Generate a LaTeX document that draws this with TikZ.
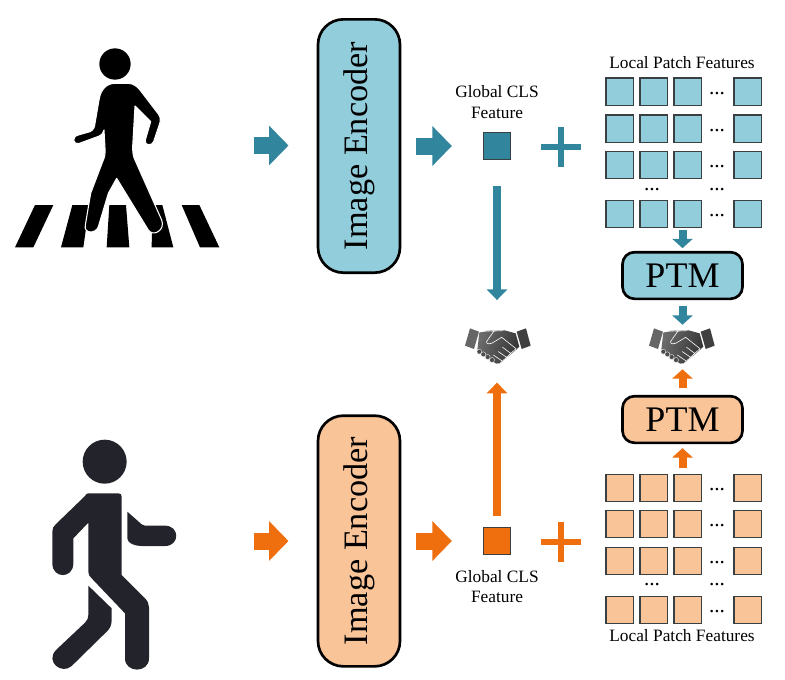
\documentclass[tikz,border=0pt]{standalone}
\usepackage{fontspec}
\setmainfont{Liberation Serif}
\usetikzlibrary{arrows.meta,calc}
\definecolor{teal}{HTML}{31859C}
\definecolor{orng}{HTML}{EF6F0F}
\definecolor{lblue}{HTML}{92CDDC}
\definecolor{lorng}{HTML}{FAC499}
\definecolor{edge}{HTML}{3A3F42}
\definecolor{dark}{HTML}{23242B}
\tikzset{
  px/.style={x=0.75pt,y=-0.75pt},
  encbox/.style={draw=black,line width=2pt,rounded corners=19pt,minimum width=61.5pt,minimum height=190pt,inner sep=0pt},
  ptmbox/.style={draw=black,line width=2pt,rounded corners=9pt,minimum width=90pt,minimum height=35pt,inner sep=0pt,font=\fontsize{27}{27}\selectfont},
  patch/.style={draw=edge,line width=1.1pt,minimum size=20.6pt,inner sep=0pt,outer sep=0pt},
  cls/.style={draw=edge,line width=1.1pt,minimum size=20.6pt,inner sep=0pt},
  lab/.style={font=\fontsize{13}{15.2}\selectfont,align=center,inner sep=0pt},
  dotslab/.style={font=\fontsize{16}{16}\selectfont,inner sep=0pt},
  bigarrow/.style={line width=12.75pt,-{Triangle[length=14.6pt,width=29pt]},draw=#1},
  midarrow/.style={line width=6pt,-{Triangle[length=8pt,width=15pt]},draw=#1},
  smallarrow/.style={line width=6pt,-{Triangle[length=7pt,width=15pt]},draw=#1},
  plusbar/.style={line width=3.8pt,draw=#1},
  anchorpt/.style={inner sep=0pt,minimum size=0pt},
}
\newcommand{\handshake}[2]{%
\begin{scope}[shift={(#1,#2)},x=0.25pt,y=-0.25pt]
  \fill[black!60] (60,85)--(87,95)--(72,147)--(45,137)--cycle;
  \fill[black!75] (200,95)--(228,85)--(242,137)--(215,147)--cycle;
  \shade[left color=black!58,right color=black!80,shading angle=70]
    (88,98) .. controls (105,92) and (120,90) .. (135,92) -- (160,90) -- (197,100) -- (208,140) -- (195,152) -- (150,190) .. controls (142,193) and (135,190) .. (130,186) -- (82,148) -- cycle;
  \draw[white,line width=0.45pt,line join=round,line cap=round]
    (87,96) .. controls (100,94) and (115,92) .. (132,93) -- (110,124) .. controls (108,132) and (118,134) .. (125,130) -- (155,112) -- (198,146)
    (132,93) -- (160,92);
  \draw[white,line width=0.45pt,line cap=round] (198,146)--(152,188) (158,142)--(182,160) (145,155)--(170,172) (130,165)--(155,182);
  \foreach \a/\b in {88/155,100/163,113/171,126/180}{\fill[black!70,draw=white,line width=0.25pt] (\a,\b) circle (7.5);}
\end{scope}}
\begin{document}
\begin{tikzpicture}[px]
\useasboundingbox (0,0) rectangle (785,679);
% crossing pedestrian
\begin{scope}[shift={(0,30)},x=0.25pt,y=-0.25pt]
  \fill[black] (105,525)--(160,525)--(100,652)--(45,652)--cycle;
  \fill[black] (217,525)--(268,525)--(250,652)--(183,652)--cycle;
  \fill[black] (328,525)--(378,525)--(388,652)--(320,652)--cycle;
  \fill[black] (457,525)--(487,525)--(520,652)--(455,652)--cycle;
  \fill[black] (545,525)--(598,525)--(658,652)--(600,652)--cycle;
  \fill[black] (345,102) circle (47);
  \path[fill=black,draw=white,line width=0.8pt,line join=round]
    (345,160)--(385,160) .. controls (400,160) and (412,170) .. (420,180)
    --(475,252) .. controls (482,262) and (482,270) .. (480,278)
    --(461,335) .. controls (456,348) and (432,348) .. (436,330)
    --(452,275)--(405,228)--(398,350) .. controls (398,370) and (400,380) .. (405,390)
    --(485,570) .. controls (497,600) and (460,622) .. (445,600)
    --(350,445)--(325,490)--(295,590) .. controls (288,612) and (250,612) .. (256,585)
    --(272,490)--(308,395) .. controls (315,380) and (316,370) .. (315,355)
    --(312,300) .. controls (310,310) and (305,315) .. (298,318)
    --(238,340) .. controls (218,345) and (214,320) .. (235,315)
    --(270,305) .. controls (280,300) and (284,292) .. (285,280)
    --(297,210) .. controls (302,178) and (320,160) .. (345,160)--cycle;
\end{scope}
% walking person
\begin{scope}[shift={(30,430)},x=0.25pt,y=-0.25pt]
  \fill[dark] (224,95) circle (66);
  \fill[dark] (175,190)--(265,190) .. controls (272,190) and (275,193) .. (275,200)
    --(275,435)--(345,505) .. controls (353,513) and (357,522) .. (357,532)
    --(357,685) .. controls (357,730) and (285,730) .. (285,685)
    --(285,550)--(185,445) .. controls (178,438) and (175,434) .. (175,425)
    --(175,278)--(130,325)--(130,400) .. controls (130,447) and (67,447) .. (67,400)
    --(67,305) .. controls (67,295) and (70,290) .. (77,283)
    --(165,198) .. controls (168,193) and (170,190) .. (175,190)--cycle;
  \fill[dark] (292,245)--(335,283) .. controls (338,286) and (340,287) .. (345,287)
    --(405,287) .. controls (450,287) and (450,348) .. (405,348)
    --(335,348) .. controls (315,348) and (292,340) .. (292,325)--cycle;
  \fill[dark] (175,467)--(245,535)--(245,570) .. controls (245,585) and (240,595) .. (232,603)
    --(125,708) .. controls (95,735) and (45,695) .. (78,660)
    --(165,578) .. controls (172,570) and (175,565) .. (175,555)--cycle;
\end{scope}
% encoders
\node[encbox,fill=lblue] (enc1) at (359,146) {\rotatebox{90}{\fontsize{25.7}{26}\selectfont Image Encoder}};
\node[encbox,fill=lorng,minimum height=188pt] (enc2) at (359,541) {\rotatebox{90}{\fontsize{25.7}{26}\selectfont Image Encoder}};
% inputs
\coordinate (in1) at (253.5,145.5);
\coordinate (in2) at (253.5,541);
\coordinate (inend1) at (288.5,145.5);
\coordinate (inend2) at (288.5,541);
\draw[bigarrow=teal] (in1) -- (inend1);
\draw[bigarrow=orng] (in2) -- (inend2);
% cls
\node[cls,fill=teal] (cls1) at (497,146) {};
\node[cls,fill=orng] (cls2) at (497,541) {};
\draw[bigarrow=teal,shorten <=11pt,shorten >=23pt] (enc1.east) -- (cls1.west);
\draw[bigarrow=orng,shorten <=11pt,shorten >=23pt] (enc2.east) -- (cls2.west);
\node[lab] (gl1) at (497,102) {Global CLS\\Feature};
\node[lab] (gl2) at (497,586.5) {Global CLS\\Feature};
% plus
\node[anchorpt] (plus1) at (561,147) {};
\node[anchorpt] (plus2) at (561,542) {};
\draw[plusbar=teal] (541,147)--(581,147) (561,127)--(561,167);
\draw[plusbar=orng] (541,542)--(581,542) (561,522)--(561,562);
% patches
\foreach \r/\y in {1/91.5,2/128.5,3/165,4/214}{
  \foreach \c/\x in {1/619.5,2/653.5,3/687.5,4/747.5}{
    \node[patch,fill=lblue] (a\r\c) at (\x,\y) {};
  }
  \node[dotslab] (ad\r) at (717,\y+2) {...};
}
\foreach \r/\y in {1/488,2/524,3/561,4/610}{
  \foreach \c/\x in {1/619.5,2/653.5,3/687.5,4/747.5}{
    \node[patch,fill=lorng] (b\r\c) at (\x,\y) {};
  }
  \node[dotslab] (bd\r) at (717,\y+2) {...};
}
\node[dotslab] (ae1) at (652,190) {...};
\node[dotslab] (ae2) at (717,190) {...};
\node[dotslab] (be1) at (652,585) {...};
\node[dotslab] (be2) at (717,585) {...};
\node[lab] (lp1) at (682,63) {Local Patch Features};
\node[lab] (lp2) at (682,636) {Local Patch Features};
% PTM
\node[ptmbox,fill=lblue] (ptm1) at (682.5,275.5) {PTM};
\node[ptmbox,fill=lorng] (ptm2) at (682.5,419.5) {PTM};
% handshakes
\node[minimum width=49pt,minimum height=28pt,inner sep=0pt] (hs1) at (497,345) {};
\node[minimum width=49pt,minimum height=28pt,inner sep=0pt] (hs2) at (682.5,345) {};
\handshake{450}{300}
\handshake{634}{300}
% connectors
\draw[midarrow=teal,shorten <=19.5pt,shorten >=19.5pt] (cls1.south) -- (hs1.north);
\draw[midarrow=orng,shorten <=8pt,shorten >=14pt] (cls2.north) -- (hs1.south);
\draw[smallarrow=teal,shorten <=1.7pt,shorten >=2pt] (a43.south -| ptm1.north) -- (ptm1.north);
\draw[smallarrow=teal,shorten <=4pt,shorten >=1pt] (ptm1.south) -- (hs2.north);
\draw[smallarrow=orng,shorten <=5pt,shorten >=4pt] (ptm2.north) -- (hs2.south);
\draw[smallarrow=orng,shorten <=5pt,shorten >=3pt] (b13.north -| ptm2.south) -- (ptm2.south);
\end{tikzpicture}
\end{document}
